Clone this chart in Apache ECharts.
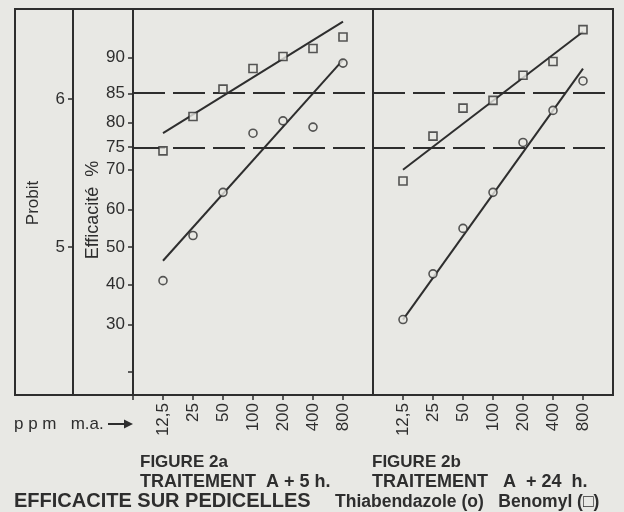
<!DOCTYPE html>
<html><head><meta charset="utf-8">
<script src="https://cdn.jsdelivr.net/npm/echarts@6/dist/echarts.min.js"></script>
<style>html,body{margin:0;padding:0;background:#e8e8e4}#c{width:624px;height:512px}</style>
</head><body><div id="c"></div>
<script>
// ---- data ----
const doses = ['12,5', '25', '50', '100', '200', '400', '800'];
const efficacyTicks = [30, 40, 50, 60, 70, 75, 80, 85, 90];
const efficacyMinorTicks = [20];
const probitTicks = [5, 6];
const thresholds = [85, 75];

// Figure 2a (A + 5 h)
const thiaA = [41.0, 53.1, 64.4, 77.9, 80.3, 79.1, 89.3];
const benoA = [74.2, 81.1, 85.7, 88.6, 90.1, 91.0, 92.2];
const thiaAFit = [46.3, 89.7];
const benoAFit = [77.9, 93.6];
// Figure 2b (A + 24 h)
const thiaB = [31.2, 42.8, 55.0, 64.4, 76.0, 82.2, 86.9];
const benoB = [67.2, 77.3, 82.6, 83.9, 87.7, 89.5, 92.9];
const thiaBFit = [31.2, 88.6];
const benoBFit = [69.9, 92.7];

// ---- probit scale ----
function invNorm(p) {
  const a = [-3.969683028665376e+01, 2.209460984245205e+02, -2.759285104469687e+02, 1.383577518672690e+02, -3.066479806614716e+01, 2.506628277459239e+00];
  const b = [-5.447609879822406e+01, 1.615858368580409e+02, -1.556989798598866e+02, 6.680131188771972e+01, -1.328068155288572e+01];
  const c = [-7.784894002430293e-03, -3.223964580411365e-01, -2.400758277161838e+00, -2.549732539343734e+00, 4.374664141464968e+00, 2.938163982698783e+00];
  const d = [7.784695709041462e-03, 3.224671290700398e-01, 2.445134137142996e+00, 3.754408661907416e+00];
  const pl = 0.02425;
  let q, r;
  if (p < pl) {
    q = Math.sqrt(-2 * Math.log(p));
    return (((((c[0]*q+c[1])*q+c[2])*q+c[3])*q+c[4])*q+c[5]) / ((((d[0]*q+d[1])*q+d[2])*q+d[3])*q+1);
  } else if (p <= 1 - pl) {
    q = p - 0.5; r = q * q;
    return (((((a[0]*r+a[1])*r+a[2])*r+a[3])*r+a[4])*r+a[5])*q / (((((b[0]*r+b[1])*r+b[2])*r+b[3])*r+b[4])*r+1);
  } else {
    q = Math.sqrt(-2 * Math.log(1 - p));
    return -(((((c[0]*q+c[1])*q+c[2])*q+c[3])*q+c[4])*q+c[5]) / ((((d[0]*q+d[1])*q+d[2])*q+d[3])*q+1);
  }
}
const probit = pct => 5 + invNorm(pct / 100);

const INK = '#2e2e2e';
const BG = '#e8e8e4';
const FONT = '"Liberation Sans", Arial, sans-serif';
const Y_MIN = 4.0, Y_MAX = 6.608;
const xCats = [''].concat(doses, ['']);

const pts = arr => doses.map((d, i) => [d, probit(arr[i])]);
const fit = arr => [[doses[0], probit(arr[0])], [doses[doses.length - 1], probit(arr[1])]];

function fmtEff(v) {
  for (const t of efficacyTicks) if (Math.abs(probit(t) - v) < 1e-6) return String(t);
  return '';
}

function xAxisFor(gi, firstTick) {
  return {
    type: 'category', gridIndex: gi, data: xCats, boundaryGap: false,
    axisLine: { show: true, lineStyle: { color: INK, width: 2 } },
    axisTick: { show: true, length: 5, lineStyle: { color: INK, width: 1.5 },
      interval: (i) => (i >= firstTick && i <= 7) },
    axisLabel: { rotate: 90, color: INK, fontSize: 17, fontFamily: FONT, margin: 8,
      interval: (i) => (i >= 1 && i <= 7) },
    splitLine: { show: false }
  };
}

function scatterSeries(gi, arr, symbol) {
  return {
    type: 'scatter', xAxisIndex: gi, yAxisIndex: gi === 0 ? 0 : 2, data: pts(arr),
    symbol: symbol, symbolSize: 8, z: 5,
    itemStyle: { color: BG, borderColor: INK, borderWidth: 1.6 }
  };
}
function fitSeries(gi, arr) {
  return {
    type: 'line', xAxisIndex: gi, yAxisIndex: gi === 0 ? 0 : 2, data: fit(arr),
    symbol: 'none', z: 3, lineStyle: { color: INK, width: 2 }
  };
}
function thresholdSeries(gi) {
  return {
    type: 'line', xAxisIndex: gi, yAxisIndex: gi === 0 ? 0 : 2, data: [], z: 2,
    markLine: {
      silent: true, symbol: ['none', 'none'], label: { show: false },
      lineStyle: { color: INK, width: 2, type: [32, 8] },
      data: thresholds.map(t => ({ yAxis: probit(t) }))
    }
  };
}

const chart = echarts.init(document.getElementById('c'), null, { renderer: 'canvas' });
chart.setOption({
  backgroundColor: BG,
  animation: false,
  grid: [
    { left: 133, top: 9, width: 240, height: 386 },
    { left: 373, top: 9, width: 240, height: 386 }
  ],
  xAxis: [xAxisFor(0, 0), xAxisFor(1, 1)],
  yAxis: [
    { type: 'value', gridIndex: 0, min: Y_MIN, max: Y_MAX,
      axisLine: { show: true, lineStyle: { color: INK, width: 2 } },
      axisTick: { show: true, length: 5, lineStyle: { color: INK, width: 1.5 },
        customValues: efficacyTicks.concat(efficacyMinorTicks).map(probit) },
      axisLabel: { color: INK, fontSize: 17, fontFamily: FONT, margin: 8,
        customValues: efficacyTicks.map(probit), formatter: fmtEff },
      splitLine: { show: false } },
    { type: 'value', gridIndex: 0, min: Y_MIN, max: Y_MAX, position: 'left', offset: 60,
      axisLine: { show: true, lineStyle: { color: INK, width: 2 } },
      axisTick: { show: true, length: 5, lineStyle: { color: INK, width: 1.5 }, customValues: probitTicks },
      axisLabel: { color: INK, fontSize: 17, fontFamily: FONT, margin: 8,
        customValues: probitTicks, formatter: v => String(Math.round(v)) },
      splitLine: { show: false } },
    { type: 'value', gridIndex: 1, min: Y_MIN, max: Y_MAX,
      axisLine: { show: true, lineStyle: { color: INK, width: 2 } },
      axisTick: { show: false }, axisLabel: { show: false }, splitLine: { show: false } }
  ],
  graphic: [
    { type: 'rect', shape: { x: 15, y: 9, width: 598, height: 386 }, z: 10,
      style: { fill: 'none', stroke: INK, lineWidth: 2 } },
    { type: 'text', x: 33, y: 203, rotation: Math.PI / 2,
      style: { text: 'Probit', font: '17px ' + FONT, fill: INK, textAlign: 'center', textVerticalAlign: 'middle' } },
    { type: 'text', x: 93, y: 210, rotation: Math.PI / 2,
      style: { text: 'Efficacité  %', font: '18px ' + FONT, fill: INK, textAlign: 'center', textVerticalAlign: 'middle' } },
    { type: 'text', x: 14, y: 424,
      style: { text: 'p p m   m.a.', font: '17px ' + FONT, fill: INK, textAlign: 'left', textVerticalAlign: 'middle' } },
    { type: 'line', shape: { x1: 108, y1: 424, x2: 126, y2: 424 },
      style: { stroke: INK, lineWidth: 2 } },
    { type: 'polygon', shape: { points: [[133, 424], [124, 419.5], [124, 428.5]] },
      style: { fill: INK } },
    { type: 'text', x: 140, y: 462,
      style: { text: 'FIGURE 2a', font: 'bold 17px ' + FONT, fill: INK, textAlign: 'left', textVerticalAlign: 'middle' } },
    { type: 'text', x: 140, y: 482,
      style: { text: 'TRAITEMENT  A + 5 h.', font: 'bold 18px ' + FONT, fill: INK, textAlign: 'left', textVerticalAlign: 'middle' } },
    { type: 'text', x: 372, y: 462,
      style: { text: 'FIGURE 2b', font: 'bold 17px ' + FONT, fill: INK, textAlign: 'left', textVerticalAlign: 'middle' } },
    { type: 'text', x: 372, y: 482,
      style: { text: 'TRAITEMENT   A  + 24  h.', font: 'bold 18px ' + FONT, fill: INK, textAlign: 'left', textVerticalAlign: 'middle' } },
    { type: 'text', x: 14, y: 501,
      style: { text: 'EFFICACITE SUR PEDICELLES', font: 'bold 20px ' + FONT, fill: INK, textAlign: 'left', textVerticalAlign: 'middle' } },
    { type: 'text', x: 335, y: 502,
      style: { text: 'Thiabendazole (o)   Benomyl (□)', font: 'bold 17.5px ' + FONT, fill: INK, textAlign: 'left', textVerticalAlign: 'middle' } }
  ],
  series: [
    thresholdSeries(0),
    fitSeries(0, thiaAFit), fitSeries(0, benoAFit),
    scatterSeries(0, thiaA, 'circle'), scatterSeries(0, benoA, 'rect'),
    thresholdSeries(1),
    fitSeries(1, thiaBFit), fitSeries(1, benoBFit),
    scatterSeries(1, thiaB, 'circle'), scatterSeries(1, benoB, 'rect')
  ]
});
</script>
</body></html>
